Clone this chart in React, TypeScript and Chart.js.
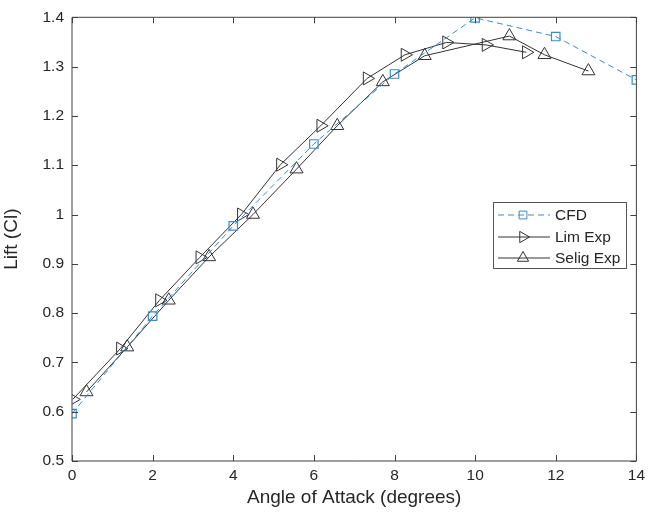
import React, { useEffect, useRef } from "react";
import { Chart, registerables } from "chart.js";

Chart.register(...registerables);

const cfdAngle = [0, 2, 4, 6, 8, 10, 12, 14];
const cfdLift = [0.596, 0.794, 0.977, 1.143, 1.285, 1.399, 1.361, 1.273];

const limAngle = [0.02, 1.2, 2.17, 3.17, 4.2, 5.17, 6.17, 7.32, 8.26, 9.29, 10.27, 11.27];
const limLift = [0.625, 0.728, 0.826, 0.913, 1.0, 1.101, 1.18, 1.276, 1.324, 1.349, 1.344, 1.329];

const seligAngle = [0.36, 1.37, 2.4, 3.4, 4.49, 5.57, 6.58, 7.71, 8.75, 10.85, 11.72, 12.81];
const seligLift = [0.64, 0.731, 0.826, 0.914, 1.0, 1.092, 1.18, 1.269, 1.322, 1.362, 1.324, 1.291];

const xTitle = "Angle of Attack (degrees)";
const yTitle = "Lift (Cl)";
const legendLabels = ["CFD", "Lim Exp", "Selig Exp"];

const BLUE = "#3a8cc8";
const DARK = "#333333";
const AXIS = "#404040";
const FONT = "'Liberation Sans', Arial, sans-serif";

const toXY = (xs: number[], ys: number[]) => xs.map((x, i) => ({ x, y: ys[i] }));

function drawMarker(ctx: CanvasRenderingContext2D, style: string, rot: number, x: number, y: number, r: number) {
  ctx.beginPath();
  if (style === "rect") {
    const s = r * Math.SQRT1_2;
    ctx.rect(x - s, y - s, 2 * s, 2 * s);
  } else {
    let a = (rot * Math.PI) / 180;
    ctx.moveTo(x + Math.sin(a) * r, y - Math.cos(a) * r);
    a += (2 * Math.PI) / 3;
    ctx.lineTo(x + Math.sin(a) * r, y - Math.cos(a) * r);
    a += (2 * Math.PI) / 3;
    ctx.lineTo(x + Math.sin(a) * r, y - Math.cos(a) * r);
    ctx.closePath();
  }
  ctx.stroke();
}

const boxPlugin = {
  id: "matlabBox",
  afterDraw(chart: any) {
    const { ctx, chartArea } = chart;
    const { left, right, top, bottom } = chartArea;
    const xs = chart.scales.x;
    const ys = chart.scales.y;
    ctx.save();
    ctx.strokeStyle = AXIS;
    ctx.lineWidth = 1;
    ctx.beginPath();
    ctx.rect(left, top, right - left, bottom - top);
    ctx.stroke();
    const tl = 6;
    ctx.beginPath();
    xs.ticks.forEach((t: any) => {
      const px = Math.round(xs.getPixelForValue(t.value)) + 0.5;
      ctx.moveTo(px, bottom);
      ctx.lineTo(px, bottom - tl);
      ctx.moveTo(px, top);
      ctx.lineTo(px, top + tl);
    });
    ys.ticks.forEach((t: any) => {
      const py = Math.round(ys.getPixelForValue(t.value)) + 0.5;
      ctx.moveTo(left, py);
      ctx.lineTo(left + tl, py);
      ctx.moveTo(right, py);
      ctx.lineTo(right - tl, py);
    });
    ctx.stroke();

    // legend
    const lx = 493.5, ly = 202.5, lw = 133, lh = 66;
    ctx.fillStyle = "#ffffff";
    ctx.fillRect(lx, ly, lw, lh);
    ctx.strokeStyle = "#555555";
    ctx.lineWidth = 1;
    ctx.strokeRect(lx, ly, lw, lh);
    const rows = [215, 237, 258];
    chart.data.datasets.forEach((ds: any, i: number) => {
      const y = rows[i];
      ctx.save();
      ctx.strokeStyle = ds.borderColor;
      ctx.lineWidth = 1;
      ctx.setLineDash(ds.borderDash || []);
      ctx.beginPath();
      ctx.moveTo(498, y);
      ctx.lineTo(550, y);
      ctx.stroke();
      ctx.setLineDash([]);
      ctx.fillStyle = "#ffffff";
      ctx.strokeStyle = ds.pointBorderColor;
      ctx.lineWidth = 1;
      const r = ds.pointStyle === "rect" ? 5.5 : 6.5;
      drawMarker(ctx, ds.pointStyle, ds.pointRotation || 0, 523, y, r);
      ctx.restore();
      ctx.fillStyle = "#262626";
      ctx.font = `15.5px ${FONT}`;
      ctx.textBaseline = "middle";
      ctx.textAlign = "left";
      ctx.fillText(ds.label, 555, y + 1);
    });
    ctx.restore();
  },
};

export default function App() {
  const ref = useRef<HTMLCanvasElement | null>(null);
  useEffect(() => {
    document.body.style.margin = "0";
    const canvas = ref.current;
    if (!canvas) return;
    const chart = new Chart(canvas, {
      type: "line",
      data: {
        datasets: [
          {
            label: legendLabels[0],
            data: toXY(cfdAngle, cfdLift),
            borderColor: BLUE,
            borderWidth: 1,
            borderDash: [6, 4],
            pointStyle: "rect",
            pointRadius: 6,
            pointBorderColor: BLUE,
            pointBackgroundColor: "rgba(0,0,0,0)",
            pointBorderWidth: 1.2,
            tension: 0,
          },
          {
            label: legendLabels[1],
            data: toXY(limAngle, limLift),
            borderColor: DARK,
            borderWidth: 1,
            pointStyle: "triangle",
            pointRotation: 90,
            pointRadius: 7.5,
            pointBorderColor: DARK,
            pointBackgroundColor: "rgba(0,0,0,0)",
            pointBorderWidth: 1,
            tension: 0,
          },
          {
            label: legendLabels[2],
            data: toXY(seligAngle, seligLift),
            borderColor: DARK,
            borderWidth: 1,
            pointStyle: "triangle",
            pointRadius: 7.5,
            pointBorderColor: DARK,
            pointBackgroundColor: "rgba(0,0,0,0)",
            pointBorderWidth: 1,
            tension: 0,
          },
        ],
      },
      options: {
        animation: false,
        responsive: false,
        maintainAspectRatio: false,
        layout: { padding: { left: 0, right: 8, top: 12, bottom: 0 } },
        plugins: { legend: { display: false }, tooltip: { enabled: false } },
        scales: {
          x: {
            type: "linear",
            min: 0,
            max: 14,
            grid: { display: false, drawTicks: false },
            border: { display: false },
            ticks: {
              stepSize: 2,
              padding: 5,
              color: "#262626",
              font: { family: FONT, size: 15.5 },
              maxRotation: 0,
            },
            title: {
              display: true,
              text: xTitle,
              color: "#262626",
              font: { family: FONT, size: 19 },
              padding: { top: 0, bottom: 11 },
            },
            afterFit: (s: any) => {
              s.height = 59;
            },
          },
          y: {
            type: "linear",
            min: 0.5,
            max: 1.4,
            grid: { display: false, drawTicks: false },
            border: { display: false },
            ticks: {
              stepSize: 0.1,
              padding: 8,
              color: "#262626",
              font: { family: FONT, size: 15.5 },
              callback: (v: any) => String(Number(Number(v).toFixed(1))),
            },
            title: {
              display: true,
              text: yTitle,
              color: "#262626",
              font: { family: FONT, size: 19 },
              padding: { top: 0, bottom: 0 },
            },
            afterFit: (s: any) => {
              s.width = 72;
            },
          },
        },
      },
      plugins: [boxPlugin],
    });
    return () => chart.destroy();
  }, []);
  return (
    <div style={{ width: 650, height: 520, background: "#ffffff" }}>
      <canvas ref={ref} width={650} height={520} style={{ display: "block" }} />
    </div>
  );
}
